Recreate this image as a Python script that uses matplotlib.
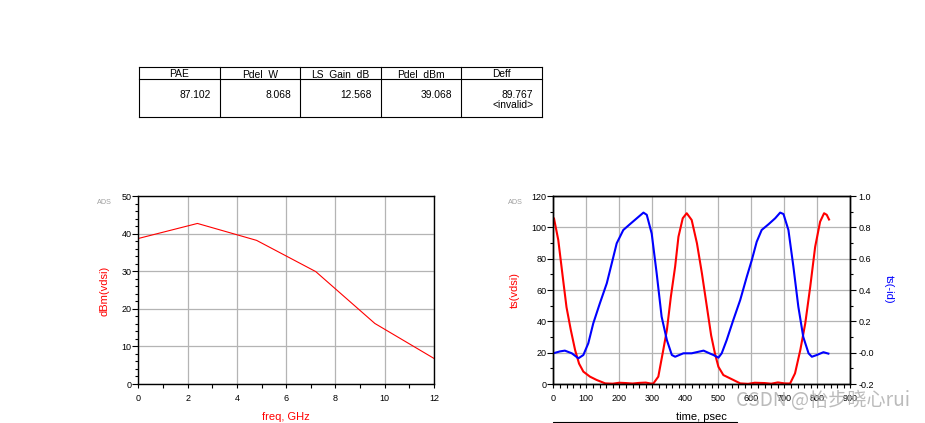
import matplotlib
matplotlib.use("Agg")
import matplotlib.pyplot as plt
from matplotlib.ticker import MultipleLocator, FixedLocator, FixedFormatter

plt.rcParams['font.family'] = ['Liberation Sans', 'DejaVu Sans']
plt.rcParams['axes.unicode_minus'] = False

# ---------------- data ----------------
table_headers = ["PAE", "Pdel_W", "LS_Gain_dB", "Pdel_dBm", "Deff"]
table_values = ["87.102", "8.068", "12.568", "39.068", "89.767"]
table_extra = ["", "", "", "", "<invalid>"]

freq_ghz = [0, 2.4, 4.8, 7.2, 9.6, 12]
dbm_vdsi = [38.7, 42.7, 38.2, 29.9, 16.1, 6.8]

t_vds = [0, 2, 15, 30, 40, 53, 66, 78, 91, 111, 131, 157, 180, 200, 220, 240, 260,
         280, 295, 303, 318, 333, 344, 356, 369, 379, 392, 404, 419, 435, 450, 465,
         478, 490, 500, 515, 545, 566, 590, 610, 640, 660, 680, 700, 717, 732, 748,
         763, 778, 793, 808, 820, 828, 835]
vdsi = [106, 105.8, 92, 66, 49, 34.5, 21.7, 13, 7.9, 4.7, 2.6, 0.4, 0.2, 0.8, 0.6,
        0.3, 0.7, 0.9, 0.3, 0.3, 4.7, 21.7, 34.5, 55.7, 75, 94, 105.8, 109, 104.7,
        89.8, 70.7, 49.4, 31, 19, 11, 5.7, 2.6, 0.4, 0.1, 0.8, 0.6, 0.2, 1.0, 0.4,
        0.3, 6.8, 21.7, 38.7, 62, 87.6, 103.6, 109, 108, 105]

t_id = [0, 20, 35, 56, 76, 91, 106, 121, 141, 162, 177, 192, 212, 232, 253, 273, 283,
        298, 313, 328, 344, 359, 369, 394, 419, 455, 475, 485, 500, 510, 525, 545,
        566, 586, 601, 616, 631, 652, 672, 687, 697, 712, 727, 742, 757, 773, 783,
        798, 818, 833]
neg_id = [-0.004, 0.008, 0.013, -0.004, -0.036, -0.015, 0.06, 0.187, 0.315, 0.443,
          0.57, 0.698, 0.783, 0.82, 0.858, 0.894, 0.88, 0.76, 0.507, 0.23, 0.08,
          -0.015, -0.026, -0.004, -0.004, 0.013, -0.006, -0.015, -0.032, -0.004,
          0.08, 0.208, 0.336, 0.485, 0.59, 0.708, 0.783, 0.82, 0.858, 0.894, 0.885,
          0.783, 0.55, 0.294, 0.1, -0.004, -0.026, -0.015, 0.003, -0.006]

id_tick_vals = [-0.2, 0.0, 0.2, 0.4, 0.6, 0.8, 1.0]
id_tick_labels = ["-0.2", "-0.0", "0.2", "0.4", "0.6", "0.8", "1.0"]

# ---------------- figure ----------------
W, H = 925, 423
fig = plt.figure(figsize=(W / 100, H / 100), dpi=100)
fig.patch.set_facecolor('white')

def px_axes(x0, x1, ytop, ybot):
    return fig.add_axes([x0 / W, (H - ybot) / H, (x1 - x0) / W, (ybot - ytop) / H])

TICKFS = 6.5
GRID = '#b4b4b4'

def style(ax):
    for s in ax.spines.values():
        s.set_linewidth(1.0)
        s.set_color('black')
    ax.grid(True, which='major', color=GRID, linewidth=0.9)
    ax.set_axisbelow(True)
    ax.tick_params(axis='y', which='major', direction='out', length=4, width=0.8,
                   pad=0.8, labelsize=TICKFS)
    ax.tick_params(axis='y', which='minor', direction='out', length=2.5, width=0.8)
    ax.tick_params(axis='x', which='major', direction='out', length=3, width=0.8,
                   pad=4.5, labelsize=TICKFS)
    ax.tick_params(axis='x', which='minor', direction='out', length=3, width=0.8)

# Left plot
ax1 = px_axes(138.3, 434, 196, 384)
ax1.plot(freq_ghz, dbm_vdsi, color='red', linewidth=0.8)
ax1.set_xlim(0, 12)
ax1.set_ylim(0, 50)
ax1.xaxis.set_major_locator(MultipleLocator(2))
ax1.xaxis.set_minor_locator(MultipleLocator(1))
ax1.yaxis.set_major_locator(MultipleLocator(10))
ax1.yaxis.set_minor_locator(MultipleLocator(2))
style(ax1)

# Right plot
ax2 = px_axes(553.3, 850.5, 196, 384)
ax2.plot(t_vds, vdsi, color='red', linewidth=1.5)
ax2.set_xlim(0, 900)
ax2.set_ylim(0, 120)
ax2.xaxis.set_major_locator(MultipleLocator(100))
ax2.xaxis.set_minor_locator(MultipleLocator(20))
ax2.yaxis.set_major_locator(MultipleLocator(20))
ax2.yaxis.set_minor_locator(MultipleLocator(10))
style(ax2)

ax3 = ax2.twinx()
ax3.plot(t_id, neg_id, color='blue', linewidth=1.5)
ax3.set_ylim(-0.2, 1.0)
ax3.yaxis.set_major_locator(FixedLocator(id_tick_vals))
ax3.yaxis.set_major_formatter(FixedFormatter(id_tick_labels))
ax3.yaxis.set_minor_locator(MultipleLocator(0.1))
for s in ax3.spines.values():
    s.set_linewidth(1.0)
ax3.tick_params(axis='y', which='major', direction='out', length=4, width=0.8,
                pad=1.7, labelsize=TICKFS)
ax3.tick_params(axis='y', which='minor', direction='out', length=2.5, width=0.8)

# ---------------- overlay (table, labels) ----------------
ov = fig.add_axes([0, 0, 1, 1])
ov.set_xlim(0, W)
ov.set_ylim(H, 0)
ov.axis('off')
ov.patch.set_alpha(0)

col_edges = [139, 220, 300, 381, 461, 542]
row_edges = [67.5, 79.5, 117.5]
lw = 0.8
for x in col_edges:
    ov.plot([x, x], [row_edges[0], row_edges[-1]], color='black', lw=lw)
for y in row_edges:
    ov.plot([col_edges[0], col_edges[-1]], [y, y], color='black', lw=lw)
for i, (h, v, e) in enumerate(zip(table_headers, table_values, table_extra)):
    cx = (col_edges[i] + col_edges[i + 1]) / 2
    ov.text(cx, 73.8, h, ha='center', va='center', fontsize=7.4)
    xr = col_edges[i + 1] - 9
    ov.text(xr, 94.5, v, ha='right', va='center', fontsize=7.4)
    if e:
        ov.text(xr + 0.5, 104.5, e, ha='right', va='center', fontsize=7.4)

# axis labels
ov.text(104, 291, "dBm(vdsi)", color='red', rotation=90, ha='center', va='center', fontsize=8)
ov.text(286, 417, "freq, GHz", color='red', ha='center', va='center', fontsize=8)
ov.text(515, 290, "ts(vdsi)", color='red', rotation=90, ha='center', va='center', fontsize=8)
ov.text(889, 289, "ts(-id)", color='blue', rotation=270, ha='center', va='center', fontsize=8)
ov.text(701.5, 417, "time, psec", color='black', ha='center', va='center', fontsize=8)
ov.text(104.5, 203, "ADS", color='#a0a0a0', ha='center', va='center', fontsize=5.2)
ov.text(515, 203, "ADS", color='#a0a0a0', ha='center', va='center', fontsize=5.2)

# partial box below right plot
ov.plot([553.3, 553.3, 737, 737], [424, 422, 422, 424], color='black', lw=0.8)

# watermark
ov.text(823, 401, "CSDN @怡步晓心rui", color='#b0b0b0', alpha=0.85, ha='center',
        va='center', fontsize=13.8, family=['Noto Sans CJK SC', 'DejaVu Sans'])

fig.savefig("out.png", dpi=100, facecolor='white')
